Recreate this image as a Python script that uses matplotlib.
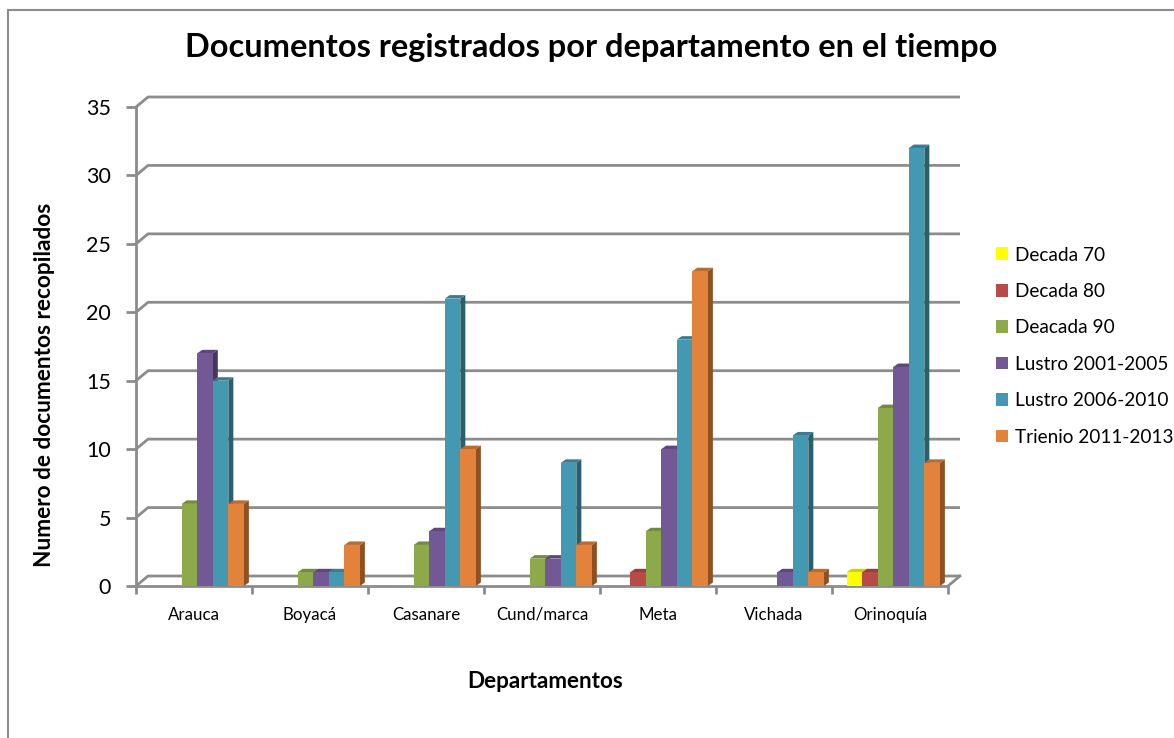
import matplotlib
matplotlib.use("Agg")
import matplotlib.pyplot as plt
from matplotlib.patches import Polygon, Rectangle
from matplotlib.lines import Line2D
from matplotlib.colors import to_rgb

# ---------------- data ----------------
departamentos = ["Arauca", "Boyacá", "Casanare", "Cund/marca", "Meta", "Vichada", "Orinoquía"]
series_names = ["Decada 70", "Decada 80", "Deacada 90", "Lustro 2001-2005",
                "Lustro 2006-2010", "Trienio 2011-2013"]
decada_70 = [0, 0, 0, 0, 0, 0, 1]
decada_80 = [0, 0, 0, 0, 1, 0, 1]
decada_90 = [6, 1, 3, 2, 4, 0, 13]
lustro_2001_2005 = [17, 1, 4, 2, 10, 1, 16]
lustro_2006_2010 = [15, 1, 21, 9, 18, 11, 32]
trienio_2011_2013 = [6, 3, 10, 3, 23, 1, 9]
y_ticks = [0, 5, 10, 15, 20, 25, 30, 35]

series = [decada_70, decada_80, decada_90, lustro_2001_2005, lustro_2006_2010, trienio_2011_2013]
colors = ["#FFFF00", "#B84A47", "#8DAA4B", "#735896", "#4499B2", "#E3833B"]

FONT = "Lato"
W, H = 1174, 738
fig = plt.figure(figsize=(W / 100, H / 100), dpi=100)
fig.patch.set_facecolor("white")

# outer chart border (only left and top visible in the frame)
fig.add_artist(Line2D([8 / W, 8 / W], [0, 1 - 10 / H], transform=fig.transFigure,
                      color="#8C8C8C", lw=1.5))
fig.add_artist(Line2D([8 / W, 1], [1 - 10 / H, 1 - 10 / H], transform=fig.transFigure,
                      color="#8C8C8C", lw=1.5))

# plot area: x from 136px to 948px, y (0 -> 586px, 35 -> 107px)
x0, x1, yb, yt = 136, 948, 586, 107
ax = fig.add_axes([x0 / W, 1 - yb / H, (x1 - x0) / W, (yb - yt) / H])
ax.set_xlim(-0.5, len(departamentos) - 0.5)
ax.set_ylim(0, 35)
ax.patch.set_visible(False)

grid_c = "#8C8C8C"
for s in ["top", "right"]:
    ax.spines[s].set_visible(False)
for s in ["left", "bottom"]:
    ax.spines[s].set_color(grid_c)
    ax.spines[s].set_linewidth(2)

# depth offsets for back wall (data units)
gdx = 12 / 116
gdy = 10 / ((yb - yt) / 35)
xmin, xmax = -0.5, len(departamentos) - 0.5
for v in y_ticks:
    ax.plot([xmin, xmin + gdx, xmax + gdx], [v, v + gdy, v + gdy],
            color=grid_c, lw=2, clip_on=False, zorder=1, solid_capstyle="butt")
# right floor edge
ax.plot([xmax + gdx, xmax], [gdy, 0], color=grid_c, lw=2, clip_on=False, zorder=1)

ax.set_yticks(y_ticks)
ax.set_yticklabels([str(v) for v in y_ticks], fontsize=15.5, family=FONT)
ax.tick_params(axis="y", length=7, width=2, color=grid_c, pad=11)

cats = list(range(len(departamentos)))
ax.set_xticks(cats)
ax.set_xticklabels(departamentos, fontsize=12.2, family=FONT)
ax.set_xticks([c - 0.5 for c in cats] + [xmax], minor=True)
ax.tick_params(axis="x", which="major", length=0, pad=15)
ax.tick_params(axis="x", which="minor", length=6, width=2, color=grid_c)


def shade(c, f):
    r, g, b = to_rgb(c)
    return (r * f, g * f, b * f)


# bars with 3D-like side/top faces
bw = 0.134
start = -0.374
sdx = 5 / 116
sdy = 3.5 / ((yb - yt) / 35)
z = 3
for ci in cats:
    for si, vals in enumerate(series):
        v = vals[ci]
        if v <= 0:
            continue
        xl = ci + start + si * bw
        col = colors[si]
        side = Polygon([(xl + bw, 0), (xl + bw + sdx, sdy), (xl + bw + sdx, v + sdy), (xl + bw, v)],
                       closed=True, facecolor=shade(col, 0.62), edgecolor="none", zorder=z)
        top = Polygon([(xl, v), (xl + sdx, v + sdy), (xl + bw + sdx, v + sdy), (xl + bw, v)],
                      closed=True, facecolor=shade(col, 0.82), edgecolor="none", zorder=z)
        ax.add_patch(side)
        ax.add_patch(top)
        for p in (side, top):
            p.set_clip_on(False)
        ax.bar([xl], [v], width=bw, align="edge", color=col, edgecolor="none", zorder=z + 0.5)
        z += 1

# labels
ax.set_xlabel("Departamentos", fontsize=16.2, fontweight="bold", family=FONT)
ax.xaxis.set_label_coords((545 - x0) / (x1 - x0), (yb - 681) / (yb - yt))
ax.xaxis.label.set_va("center")
ax.set_ylabel("Numero de documentos recopilados", fontsize=16.3, fontweight="bold", family=FONT)
ax.yaxis.set_label_coords((45 - x0) / (x1 - x0), (yb - 385) / (yb - yt))
ax.yaxis.label.set_va("center")
fig.text(591 / W, 1 - 48 / H, "Documentos registrados por departamento en el tiempo",
         ha="center", va="center", fontsize=23.4, fontweight="bold", family=FONT)

# legend
handles = [Rectangle((0, 0), 1, 1, facecolor=c, edgecolor="none") for c in colors]
fig.legend(handles, series_names, loc="upper left", bbox_to_anchor=(986 / W, 1 - 237 / H),
           frameon=False, prop={"family": FONT, "size": 13.7}, handlelength=0.65,
           handleheight=0.65, handletextpad=0.4, labelspacing=1.02, borderpad=0)

fig.savefig("out.png", dpi=100, facecolor="white")
